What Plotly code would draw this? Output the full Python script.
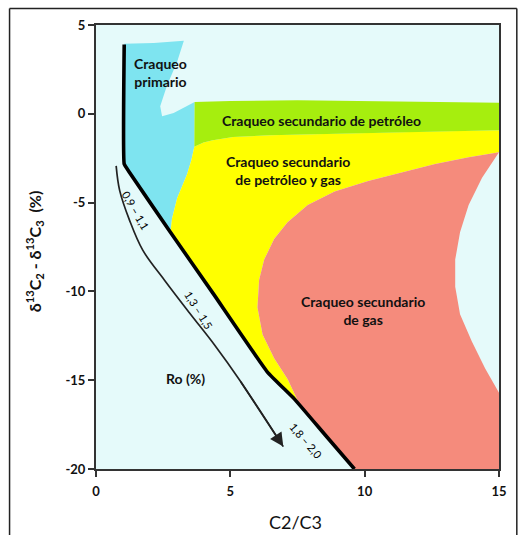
import plotly.graph_objects as go

# ---------------- data ----------------
x_ticks = [0, 5, 10, 15]
x_tick_labels = ["0", "5", "10", "15"]
y_ticks = [-20, -15, -10, -5, 0, 5]
y_tick_labels = ["-20", "-15", "-10", "-5", "0", "5"]

# thick black limit line (top to bottom)
limit_x = [1.05, 1.05, 1.21, 2.77, 4.39, 6.38, 7.38, 8.50, 9.62]
limit_y = [3.90, -2.83, -3.22, -6.67, -10.18, -14.54, -16.05, -18.03, -20.0]

# thin Ro (%) arrow curve
ro_x = [0.75, 0.88, 1.25, 1.74, 2.55, 3.49, 4.42, 5.35, 6.97]
ro_y = [-2.93, -4.31, -6.00, -7.68, -9.37, -11.23, -13.03, -15.00, -18.74]

# cyan top edge and white notch (from black line top to the green corner)
cyan_top_x = [1.05, 2.15, 3.27, 3.02, 2.64, 2.39, 2.46, 2.89, 3.67]
cyan_top_y = [3.95, 3.99, 4.12, 2.93, 1.58, 0.43, -0.14, 0.05, 0.66]

# cyan / yellow boundary (green corner down to the black line)
cy_x = [3.66, 3.55, 3.39, 3.02, 2.83, 2.77]
cy_y = [-1.85, -2.60, -3.41, -4.75, -5.90, -6.67]

# green band edges (left to right)
green_top_x = [3.67, 5.0, 7.5, 10.0, 12.5, 15.0]
green_top_y = [0.66, 0.72, 0.76, 0.72, 0.66, 0.62]
green_bot_x = [3.66, 4.00, 4.35, 5.10, 6.47, 8.5, 10.5, 12.5, 15.0]
green_bot_y = [-1.85, -1.62, -1.49, -1.31, -1.21, -1.12, -1.06, -1.00, -0.93]

# yellow / salmon boundary (right edge to black line)
salmon_top_x = [15.0, 13.87, 12.62, 11.37, 10.13, 8.88, 7.88, 7.13, 6.63, 6.26, 6.07, 6.01, 6.20, 6.63, 7.13, 7.60]
salmon_top_y = [-2.16, -2.45, -2.83, -3.31, -3.79, -4.37, -5.13, -6.10, -7.05, -8.21, -9.36, -10.90, -12.43, -13.77, -14.93, -16.44]

# light notch on the right side of the salmon area (bottom to top)
notch_x = [15.0, 14.49, 13.99, 13.55, 13.37, 13.37, 13.55, 13.87, 14.37, 15.0]
notch_y = [-15.70, -14.35, -12.82, -11.28, -9.74, -8.21, -6.67, -5.13, -3.60, -2.16]

# ---------------- styles ----------------
BG = "#E5FAFA"
CYAN = "#7EE4F0"
GREEN = "#A6EE0E"
YELLOW = "#FFFF00"
SALMON = "#F58B7C"
FONT = "Lato"
TXT = "#111111"

# ---------------- polygons built from the boundaries ----------------
# limit line indices: 3 -> (2.77,-6.67) ; 6 -> just above the salmon junction
cyan_px = limit_x[:4] + cy_x[::-1] + cyan_top_x[::-1]
cyan_py = limit_y[:4] + cy_y[::-1] + cyan_top_y[::-1]

yellow_px = green_bot_x + salmon_top_x + limit_x[6:2:-1] + cy_x[::-1]
yellow_py = green_bot_y + salmon_top_y + limit_y[6:2:-1] + cy_y[::-1]

green_px = green_top_x + green_bot_x[::-1]
green_py = green_top_y + green_bot_y[::-1]

salmon_px = salmon_top_x + limit_x[7:] + [15.0] + notch_x
salmon_py = salmon_top_y + limit_y[7:] + [-20.0] + notch_y

fig = go.Figure()


def area(xs, ys, color):
    fig.add_trace(go.Scatter(x=xs, y=ys, mode="lines", fill="toself",
                             fillcolor=color, line=dict(width=0, color=color),
                             hoverinfo="skip", showlegend=False))


area(cyan_px, cyan_py, CYAN)
area(yellow_px, yellow_py, YELLOW)
area(green_px, green_py, GREEN)
area(salmon_px, salmon_py, SALMON)

# thin Ro curve
fig.add_trace(go.Scatter(x=ro_x, y=ro_y, mode="lines",
                         line=dict(color="#222222", width=1.7, shape="spline"),
                         hoverinfo="skip", showlegend=False))
# thick black limit line
fig.add_trace(go.Scatter(x=limit_x, y=limit_y, mode="lines",
                         line=dict(color="#000000", width=3.6, shape="spline", smoothing=0.3),
                         hoverinfo="skip", showlegend=False))

annotations = []
# arrow head on the Ro curve
annotations.append(dict(x=ro_x[-1], y=ro_y[-1], ax=ro_x[-2], ay=ro_y[-2],
                        xref="x", yref="y", axref="x", ayref="y", text="",
                        showarrow=True, arrowhead=2, arrowsize=1.6,
                        arrowwidth=1.7, arrowcolor="#222222"))

region_font = dict(family=FONT, size=14, color=TXT, weight="bold")
range_font = dict(family=FONT, size=11, color="#000000", weight="normal")

annotations += [
    dict(x=1.33, y=2.33, xref="x", yref="y", text="Craqueo<br>primario",
         showarrow=False, xanchor="left", font=region_font),
    dict(x=8.38, y=-0.37, xref="x", yref="y", text="Craqueo secundario de petróleo",
         showarrow=False, font=region_font),
    dict(x=7.13, y=-3.18, xref="x", yref="y", text="Craqueo secundario<br>de petróleo y gas",
         showarrow=False, font=region_font),
    dict(x=9.94, y=-11.09, xref="x", yref="y", text="Craqueo secundario<br>de gas",
         showarrow=False, font=region_font),
    dict(x=3.33, y=-14.93, xref="x", yref="y", text="Ro (%)",
         showarrow=False, font=region_font),
    dict(x=1.49, y=-5.42, xref="x", yref="y", text="0,9 – 1,1",
         showarrow=False, textangle=60, font=range_font),
    dict(x=3.83, y=-11.09, xref="x", yref="y", text="1,3 – 1,5",
         showarrow=False, textangle=58, font=range_font),
    dict(x=7.82, y=-18.38, xref="x", yref="y", text="1,8 – 2,0",
         showarrow=False, textangle=49, font=range_font),
]

# axis titles
annotations.append(dict(x=0.4955, y=-0.12, xref="paper", yref="paper",
                        text="C2/C3", showarrow=False, yanchor="middle",
                        font=dict(family=FONT, size=18, color=TXT)))
annotations.append(dict(x=-0.152, y=0.49, xref="paper", yref="paper",
                        text="δ<sup>13</sup>C<sub>2</sub> - δ<sup>13</sup>C<sub>3</sub>  (%)",
                        showarrow=False, textangle=-90, xanchor="center",
                        yanchor="middle",
                        font=dict(family=FONT, size=16, color=TXT, weight="bold")))

axis_common = dict(showgrid=False, zeroline=False, showline=True, mirror=True,
                   linecolor="#333333", linewidth=2, ticks="outside",
                   ticklen=6, tickwidth=2, tickcolor="#333333",
                   tickfont=dict(family=FONT, size=13, color=TXT, weight="bold"))

fig.update_layout(
    width=525, height=535,
    margin=dict(l=96, r=26, t=25, b=66),
    paper_bgcolor="white", plot_bgcolor=BG,
    showlegend=False,
    xaxis=dict(range=[0, 15], tickvals=x_ticks, ticktext=x_tick_labels,
               ticklabelstandoff=3, **axis_common),
    yaxis=dict(range=[-20, 5], tickvals=y_ticks, ticktext=y_tick_labels, **axis_common),
    annotations=annotations,
    shapes=[
        dict(type="line", xref="paper", yref="paper", x0=-0.2145, x1=-0.2145,
             y0=1.0374, y1=-0.16, line=dict(color="#222222", width=1.5)),
        dict(type="line", xref="paper", yref="paper", x0=-0.2145, x1=1.0442,
             y0=1.0374, y1=1.0374, line=dict(color="#222222", width=1.5)),
        dict(type="line", xref="paper", yref="paper", x0=1.0442, x1=1.0442,
             y0=1.0374, y1=-0.16, line=dict(color="#222222", width=1.5)),
    ],
)

fig.write_html("out.html")
